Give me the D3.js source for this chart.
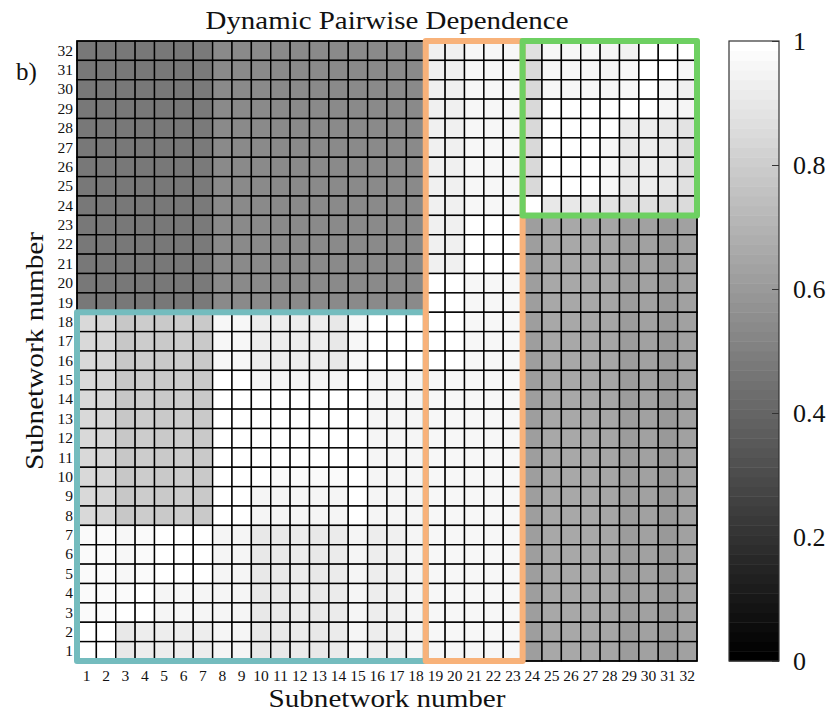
<!DOCTYPE html>
<html>
<script src="https://d3js.org/d3.v7.min.js"></script>
<style>
    body {margin: 0; background: white;}
    text {font-family: "Liberation Serif", serif; fill: #111;}
</style>
<body onload="init()">
<div id="chart"></div>
<script>
    // subnetwork numbers (tick labels on both axes)
    var subnetworks = [1,2,3,4,5,6,7,8,9,10,11,12,13,14,15,16,17,18,19,20,21,22,23,24,25,26,27,28,29,30,31,32];

    // dependence matrix, listed from row 32 (top) down to row 1 (bottom), columns 1..32
    var dependenceRows = [
        [.47,.47,.47,.47,.47,.47,.48,.54,.54,.54,.54,.54,.54,.54,.54,.54,.54,.54,.94,.94,.97,.97,.97,.88,.97,.97,.97,.96,.95,1,1,1],
        [.47,.47,.47,.47,.47,.47,.48,.54,.54,.54,.54,.54,.54,.54,.54,.54,.54,.54,.94,.94,.97,.97,.97,.85,.97,.97,.97,.96,.97,1,1,.97],
        [.47,.47,.47,.47,.47,.47,.48,.54,.54,.54,.54,.54,.54,.54,.54,.54,.54,.54,.94,.94,.97,.97,.97,.85,.97,.97,.97,.96,.97,1,.96,.94],
        [.47,.47,.47,.47,.47,.47,.48,.54,.54,.54,.54,.54,.54,.54,.54,.54,.54,.54,.94,.94,.97,.97,.97,.85,1,1,1,1,1,1,.96,.96],
        [.47,.47,.47,.47,.47,.47,.48,.54,.54,.54,.54,.54,.54,.54,.54,.54,.54,.54,.94,.94,.97,.97,.97,.85,1,1,1,1,.92,.93,.91,.89],
        [.47,.47,.47,.47,.47,.47,.48,.54,.54,.54,.54,.54,.54,.54,.54,.54,.54,.54,.94,.94,.97,.97,.97,.85,1,1,1,.97,.91,.93,.91,.88],
        [.47,.47,.47,.47,.47,.47,.48,.54,.54,.54,.54,.54,.54,.54,.54,.54,.54,.54,.94,.94,.97,.97,.97,.85,1,1,1,.97,.91,.93,.91,.88],
        [.47,.47,.47,.47,.47,.47,.48,.54,.54,.54,.54,.54,.54,.54,.54,.54,.54,.54,.94,.94,.97,.97,.97,.85,1,1,1,.97,.91,.93,.91,.88],
        [.47,.47,.47,.47,.47,.47,.48,.54,.54,.54,.54,.54,.54,.54,.54,.54,.54,.54,.94,.94,.97,.97,.97,1,.91,.91,.91,.89,.86,.88,.85,.86],
        [.47,.47,.47,.47,.47,.47,.48,.54,.54,.54,.54,.54,.54,.54,.54,.54,.54,.54,.94,.94,1,1,1,.62,.66,.66,.66,.65,.61,.63,.6,.63],
        [.47,.47,.47,.47,.47,.47,.48,.54,.54,.54,.54,.54,.54,.54,.54,.54,.54,.54,.94,.94,1,1,1,.62,.66,.66,.66,.65,.61,.63,.6,.63],
        [.47,.47,.47,.47,.47,.47,.48,.54,.54,.54,.54,.54,.54,.54,.54,.54,.54,.54,.94,.94,1,1,1,.62,.66,.66,.66,.65,.61,.63,.6,.63],
        [.47,.47,.47,.47,.47,.47,.48,.54,.54,.54,.54,.54,.54,.54,.54,.54,.54,.54,1,1,.97,.97,.97,.62,.66,.66,.66,.65,.61,.63,.6,.63],
        [.47,.47,.47,.47,.47,.47,.48,.54,.54,.54,.54,.54,.54,.54,.54,.54,.54,.54,1,1,.97,.97,.97,.62,.66,.66,.66,.65,.61,.63,.6,.63],
        [.85,.84,.78,.8,.79,.8,.79,.97,.97,.93,.93,.93,.93,.91,.97,1,1,1,1,1,.97,.97,.97,.62,.66,.66,.66,.65,.61,.63,.6,.63],
        [.85,.84,.78,.8,.79,.8,.79,.97,.97,.93,.93,.93,.93,.91,.97,1,1,1,1,1,.97,.97,.97,.62,.66,.66,.66,.65,.61,.63,.6,.63],
        [.85,.84,.78,.8,.79,.8,.79,.97,.97,.93,.93,.93,.93,.91,.97,1,1,1,1,1,.97,.97,.97,.62,.66,.66,.66,.65,.61,.63,.6,.63],
        [.85,.84,.78,.8,.79,.8,.79,1,1,.96,.96,.96,.96,.96,1,.96,.96,.96,.97,.97,.97,.97,.97,.62,.66,.66,.66,.65,.61,.63,.6,.63],
        [.85,.84,.78,.8,.79,.8,.79,1,1,1,1,1,1,1,1,.96,.96,.96,.97,.97,.97,.97,.97,.62,.66,.66,.66,.65,.61,.63,.6,.63],
        [.85,.84,.78,.8,.79,.8,.79,1,1,1,1,1,1,1,1,.96,.96,.96,.97,.97,.97,.97,.97,.62,.66,.66,.66,.65,.61,.63,.6,.63],
        [.85,.84,.78,.8,.79,.8,.79,1,1,1,1,1,1,1,1,.96,.96,.96,.97,.97,.97,.97,.97,.62,.66,.66,.66,.65,.61,.63,.6,.63],
        [.85,.84,.78,.8,.79,.8,.79,1,1,1,1,1,1,1,1,.96,.96,.96,.97,.97,.97,.97,.97,.62,.66,.66,.66,.65,.61,.63,.6,.63],
        [.85,.84,.78,.8,.79,.8,.79,1,1,1,.98,.98,.98,.98,1,.96,.96,.96,.97,.97,.97,.97,.97,.62,.66,.66,.66,.65,.61,.63,.6,.63],
        [.85,.84,.78,.8,.79,.8,.79,1,1,.96,.96,.96,.96,.96,1,.96,.96,.96,.97,.97,.97,.97,.97,.62,.66,.66,.66,.65,.61,.63,.6,.63],
        [.85,.84,.78,.8,.79,.8,.79,1,1,.96,.96,.96,.96,.96,1,.96,.96,.96,.97,.97,.97,.97,.97,.62,.66,.66,.66,.65,.61,.63,.6,.63],
        [.98,.98,.97,.98,1,1,1,.96,.96,.91,.91,.92,.91,.92,.96,.93,.94,.96,.97,.97,.97,.97,.97,.62,.66,.66,.66,.65,.61,.63,.6,.63],
        [.98,.98,.97,.98,1,1,1,.96,.96,.91,.91,.92,.91,.92,.96,.93,.94,.96,.97,.97,.97,.97,.97,.62,.66,.66,.66,.65,.61,.63,.6,.63],
        [.98,.98,.97,.98,1,1,1,.96,.96,.91,.91,.92,.91,.92,.96,.93,.94,.96,.97,.97,.97,.97,.97,.62,.66,.66,.66,.65,.61,.63,.6,.63],
        [.98,.98,.98,1,.96,.97,.96,.96,.96,.91,.91,.92,.91,.92,.96,.93,.94,.96,.97,.97,.97,.97,.97,.62,.66,.66,.66,.65,.61,.63,.6,.63],
        [.98,.98,1,1,.96,.97,.96,.96,.96,.91,.91,.92,.91,.92,.96,.93,.94,.96,.97,.97,.97,.97,.97,.62,.66,.66,.66,.65,.61,.63,.6,.63],
        [1,1,.91,.93,.93,.93,.93,.96,.96,.91,.91,.92,.91,.92,.96,.93,.94,.96,.97,.97,.97,.97,.97,.62,.66,.66,.66,.65,.61,.63,.6,.63],
        [1,1,.91,.93,.93,.93,.93,.96,.96,.91,.91,.92,.91,.92,.96,.93,.94,.96,.97,.97,.97,.97,.97,.62,.66,.66,.66,.65,.61,.63,.6,.63]
    ];

    // highlighted modules: subnetwork ranges on x (columns) and y (rows)
    var moduleCols = [[1, 18], [19, 23], [24, 32]];
    var moduleRows = [[1, 18], [1, 32], [24, 32]];
    var moduleColors = ["#74bcbe", "#f8b27a", "#6ed062"];

    var colorbarTicks = [0, 0.2, 0.4, 0.6, 0.8, 1];
    var colormapLevels = 64;

    var width = 830, height = 715;
    var plot = {left: 77, top: 41, size: 620};
    var bar = {left: 729, width: 50};

    function init()
    {
        let svg = d3.select("#chart").append("svg")
            .attr("width", width)
            .attr("height", height);

        let x = d3.scaleBand().domain(subnetworks).range([plot.left, plot.left + plot.size]);
        let y = d3.scaleBand().domain(subnetworks).range([plot.top + plot.size, plot.top]);
        let gray = d3.scaleLinear().domain([0, 1]).range(["#000", "#fff"]);

        // flatten to cells
        let cells = [];
        dependenceRows.forEach(function(row, i) {
            let rowNum = subnetworks[subnetworks.length - 1 - i];
            row.forEach(function(v, j) {
                cells.push({row: rowNum, col: subnetworks[j], value: v});
            });
        });

        svg.append("g").selectAll("rect")
            .data(cells)
            .enter().append("rect")
            .attr("x", d => x(d.col))
            .attr("y", d => y(d.row))
            .attr("width", x.bandwidth())
            .attr("height", y.bandwidth())
            .attr("fill", d => gray(d.value))
            .attr("stroke", "#000")
            .attr("stroke-width", 1.4);

        svg.append("rect")
            .attr("x", plot.left).attr("y", plot.top)
            .attr("width", plot.size).attr("height", plot.size)
            .attr("fill", "none").attr("stroke", "#000").attr("stroke-width", 1.4);

        // module boxes
        moduleCols.forEach(function(c, i) {
            let r = moduleRows[i];
            svg.append("rect")
                .attr("x", x(c[0]))
                .attr("y", y(r[1]))
                .attr("width", x(c[1]) + x.bandwidth() - x(c[0]))
                .attr("height", y(r[0]) + y.bandwidth() - y(r[1]))
                .attr("fill", "none")
                .attr("stroke", moduleColors[i])
                .attr("stroke-width", 6)
                .attr("stroke-linejoin", "round");
        });

        // axes
        let xAxis = svg.append("g")
            .attr("transform", "translate(0," + (plot.top + plot.size) + ")")
            .call(d3.axisBottom(x).tickSize(0).tickPadding(9));
        let yAxis = svg.append("g")
            .attr("transform", "translate(" + plot.left + ",0)")
            .call(d3.axisLeft(y).tickSize(0).tickPadding(4));
        [xAxis, yAxis].forEach(function(a) {
            a.select(".domain").remove();
            a.selectAll("text").style("font-family", "'Liberation Serif', serif").style("font-size", "15.5px").attr("fill", "#111");
        });

        // colorbar
        let cb = d3.scaleLinear().domain([0, 1]).range([plot.top + plot.size, plot.top]);
        let levels = d3.range(colormapLevels);
        svg.append("g").selectAll("rect")
            .data(levels)
            .enter().append("rect")
            .attr("x", bar.left)
            .attr("y", d => cb((d + 1) / colormapLevels))
            .attr("width", bar.width)
            .attr("height", cb(0) - cb(1 / colormapLevels) + 0.5)
            .attr("fill", d => gray(d / (colormapLevels - 1)));
        svg.append("rect")
            .attr("x", bar.left).attr("y", plot.top)
            .attr("width", bar.width).attr("height", plot.size)
            .attr("fill", "none").attr("stroke", "#333").attr("stroke-width", 1.2);
        let cbAxis = svg.append("g")
            .attr("transform", "translate(" + (bar.left + bar.width) + ",0)")
            .call(d3.axisRight(cb).tickValues(colorbarTicks).tickFormat(d3.format("~g")).tickSize(-7).tickPadding(14));
        cbAxis.select(".domain").remove();
        cbAxis.selectAll("line").attr("stroke", "#333");
        cbAxis.selectAll("text").style("font-family", "'Liberation Serif', serif").style("font-size", "26px").attr("fill", "#111");

        // titles
        svg.append("text")
            .attr("x", plot.left + plot.size / 2).attr("y", 29)
            .attr("text-anchor", "middle")
            .style("font-size", "25px")
            .attr("textLength", 363).attr("lengthAdjust", "spacingAndGlyphs")
            .text("Dynamic Pairwise Dependence");
        svg.append("text")
            .attr("x", plot.left + plot.size / 2).attr("y", 707)
            .attr("text-anchor", "middle")
            .style("font-size", "25px")
            .attr("textLength", 237).attr("lengthAdjust", "spacingAndGlyphs")
            .text("Subnetwork number");
        svg.append("text")
            .attr("transform", "translate(43," + (plot.top + plot.size / 2) + ") rotate(-90)")
            .attr("text-anchor", "middle")
            .style("font-size", "25px")
            .attr("textLength", 238).attr("lengthAdjust", "spacingAndGlyphs")
            .text("Subnetwork number");
        svg.append("text")
            .attr("x", 16).attr("y", 80)
            .style("font-size", "25px")
            .text("b)");
    }
</script>
</body>
</html>
